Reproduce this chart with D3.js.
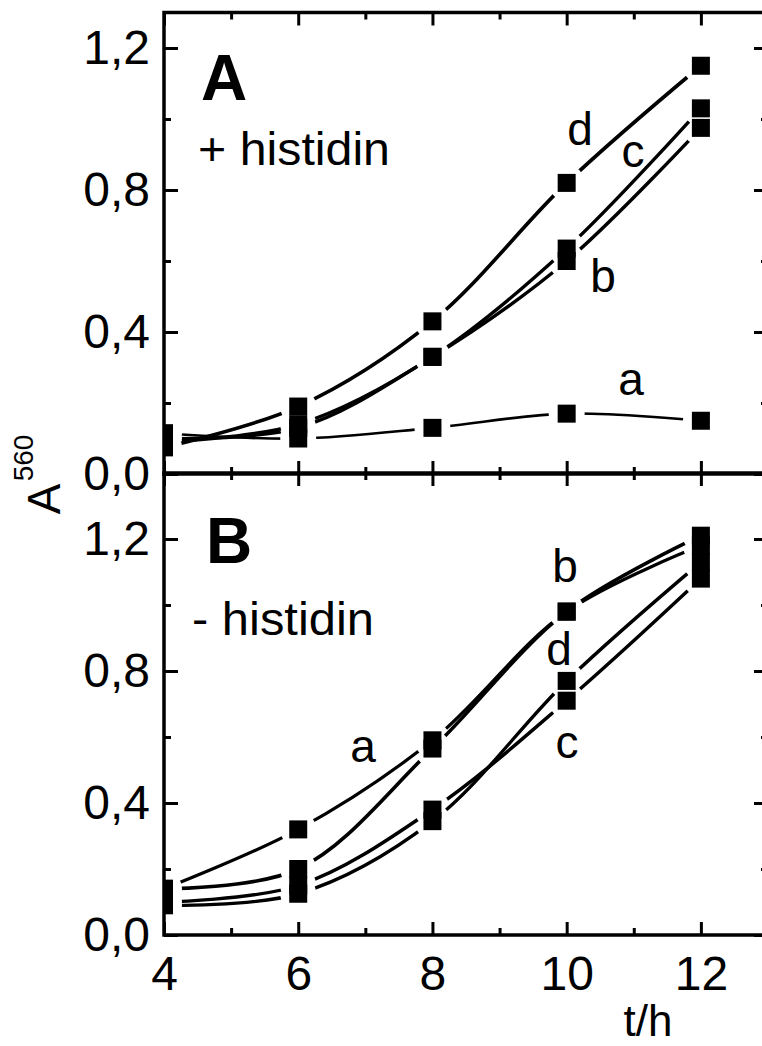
<!DOCTYPE html>
<html>
<head>
<meta charset="utf-8">
<script src="https://cdn.jsdelivr.net/npm/d3@7"></script>
<style>
  body { margin: 0; background: #fff; }
  svg { display: block; }
  text { font-family: "Liberation Sans", Arial, Helvetica, sans-serif; fill: #000; }
</style>
</head>
<body>
<svg id="chart" width="762" height="1046"></svg>
<script>
// Sampling times (hours)
const hours = [4, 6, 8, 10, 12];
const seriesNames = ["a", "b", "c", "d"];

// Panel A: + histidin, absorbance at 560 nm
const plusA = [0.115, 0.10, 0.13, 0.17, 0.15];
const plusB = [0.10, 0.13, 0.33, 0.60, 0.975];
const plusC = [0.09, 0.14, 0.33, 0.635, 1.03];
const plusD = [0.075, 0.19, 0.43, 0.82, 1.15];

// Panel B: - histidin
const minusA = [0.14, 0.32, 0.59, 0.98, 1.18];
const minusB = [0.14, 0.20, 0.565, 0.98, 1.21];
const minusC = [0.10, 0.15, 0.38, 0.71, 1.08];
const minusD = [0.09, 0.125, 0.345, 0.77, 1.13];

// Axis ticks
const xMajor = [4, 6, 8, 10, 12];
const xMinor = [5, 7, 9, 11];
const yMajor = [0, 0.4, 0.8, 1.2];
const yMinor = [0.2, 0.6, 1.0];
const yTickLabels = ["0,0", "0,4", "0,8", "1,2"];

const svg = d3.select("#chart");
const defs = svg.append("defs");

const left = 164, right = 768;
const x = d3.scaleLinear().domain([4, 13]).range([left, right]);

const panels = [
  { id: "A", title: "A", note: "+ histidin", noteLen: 192,
    y: d3.scaleLinear().domain([0, 1.3]).range([474, 12.5]),
    series: [plusA, plusB, plusC, plusD],
    widths: [2.6, 3.4, 3.4, 3.6],
    labels: [ {s: "d", x: 580, y: 145}, {s: "c", x: 633, y: 167},
              {s: "b", x: 603, y: 292}, {s: "a", x: 631, y: 395} ],
    titlePos: [201, 100], notePos: [198, 165] },
  { id: "B", title: "B", note: "- histidin", noteLen: 182,
    y: d3.scaleLinear().domain([0, 1.4]).range([935, 473]),
    series: [minusA, minusB, minusC, minusD],
    widths: [3.2, 3.6, 3.4, 3.4],
    labels: [ {s: "b", x: 565, y: 582}, {s: "d", x: 559, y: 665},
              {s: "a", x: 363, y: 762}, {s: "c", x: 567, y: 758} ],
    titlePos: [206, 563], notePos: [192, 635] }
];

const markerSize = 18;
const gapRadius = 18;
const fmtY = d => yTickLabels[yMajor.indexOf(d)];

panels.forEach(p => {
  const [y0, y1] = p.y.range();
  // clip to the panel frame
  defs.append("clipPath").attr("id", "clip" + p.id)
    .append("rect").attr("x", left).attr("y", y1)
    .attr("width", right - left).attr("height", y0 - y1);

  const g = svg.append("g").attr("clip-path", `url(#clip${p.id})`);

  const line = d3.line()
    .x((d, i) => x(hours[i]))
    .y(d => p.y(d))
    .curve(d3.curveCatmullRom.alpha(0.5));

  p.series.forEach((vals, si) => {
    // each series' line is broken around its own symbols
    const mid = `gap${p.id}${si}`;
    const m = defs.append("mask").attr("id", mid)
      .attr("maskUnits", "userSpaceOnUse")
      .attr("x", 0).attr("y", 0).attr("width", 800).attr("height", 1046);
    m.append("rect").attr("x", 0).attr("y", 0).attr("width", 800).attr("height", 1046).attr("fill", "#fff");
    m.selectAll("circle").data(vals).join("circle")
      .attr("cx", (d, i) => x(hours[i]))
      .attr("cy", d => p.y(d))
      .attr("r", gapRadius).attr("fill", "#000");

    g.append("path").datum(vals)
      .attr("d", line)
      .attr("fill", "none")
      .attr("stroke", "#000")
      .attr("stroke-width", p.widths[si])
      .attr("stroke-linecap", "round")
      .attr("mask", `url(#${mid})`);
  });

  p.series.forEach(vals => {
    g.selectAll(null).data(vals).join("rect")
      .attr("x", (d, i) => x(hours[i]) - markerSize / 2)
      .attr("y", d => p.y(d) - markerSize / 2)
      .attr("width", markerSize).attr("height", markerSize)
      .attr("fill", "#000");
  });

  // y axes (left with labels, right mirrored), ticks pointing inward
  svg.append("g").attr("transform", `translate(${left},0)`)
    .call(d3.axisLeft(p.y).tickValues(yMajor).tickSize(-14).tickPadding(14).tickFormat(fmtY));
  svg.append("g").attr("transform", `translate(${left},0)`)
    .call(d3.axisLeft(p.y).tickValues(yMinor).tickSize(-7).tickFormat(""));
  svg.append("g").attr("transform", `translate(${right},0)`)
    .call(d3.axisRight(p.y).tickValues(yMajor).tickSize(-14).tickFormat(""));
  svg.append("g").attr("transform", `translate(${right},0)`)
    .call(d3.axisRight(p.y).tickValues(yMinor).tickSize(-7).tickFormat(""));

  // x ticks along the panel's top and bottom edges
  svg.append("g").attr("transform", `translate(0,${y1})`)
    .call(d3.axisTop(x).tickValues(xMajor).tickSize(-13).tickFormat(""));
  svg.append("g").attr("transform", `translate(0,${y1})`)
    .call(d3.axisTop(x).tickValues(xMinor).tickSize(-7).tickFormat(""));
  svg.append("g").attr("transform", `translate(0,${y0})`)
    .call(d3.axisBottom(x).tickValues(xMajor).tickSize(-13)
      .tickPadding(21).tickFormat(p.id === "B" ? d3.format("d") : ""));
  svg.append("g").attr("transform", `translate(0,${y0})`)
    .call(d3.axisBottom(x).tickValues(xMinor).tickSize(-7).tickFormat(""));

  // panel frame
  svg.append("rect").attr("x", left).attr("y", y1)
    .attr("width", right - left).attr("height", y0 - y1)
    .attr("fill", "none").attr("stroke", "#000").attr("stroke-width", 3.5);

  svg.append("text").attr("x", p.titlePos[0]).attr("y", p.titlePos[1])
    .attr("font-size", 64).attr("font-weight", "bold").text(p.title);
  svg.append("text").attr("x", p.notePos[0]).attr("y", p.notePos[1])
    .attr("font-size", 46)
    .attr("textLength", p.noteLen).attr("lengthAdjust", "spacingAndGlyphs")
    .text(p.note);
  p.labels.forEach(l => {
    svg.append("text").attr("x", l.x).attr("y", l.y)
      .attr("text-anchor", "middle").attr("font-size", 46).text(l.s);
  });
});

svg.selectAll(".domain").remove();
svg.selectAll(".tick line").attr("stroke", "#000").attr("stroke-width", 3);
svg.selectAll(".tick text").attr("font-size", 48)
  .attr("font-family", "\"Liberation Sans\", Arial, sans-serif").attr("fill", "#000");

// axis titles
svg.append("text").attr("text-anchor", "middle").attr("font-size", 44)
  .attr("transform", "translate(648,1036)").text("t/h");
svg.append("text").attr("text-anchor", "middle").attr("font-size", 46)
  .attr("transform", "translate(60,499) rotate(-90)").text("A");
svg.append("text").attr("text-anchor", "middle").attr("font-size", 28)
  .attr("transform", "translate(33,458) rotate(-90)").text("560");
</script>
</body>
</html>
